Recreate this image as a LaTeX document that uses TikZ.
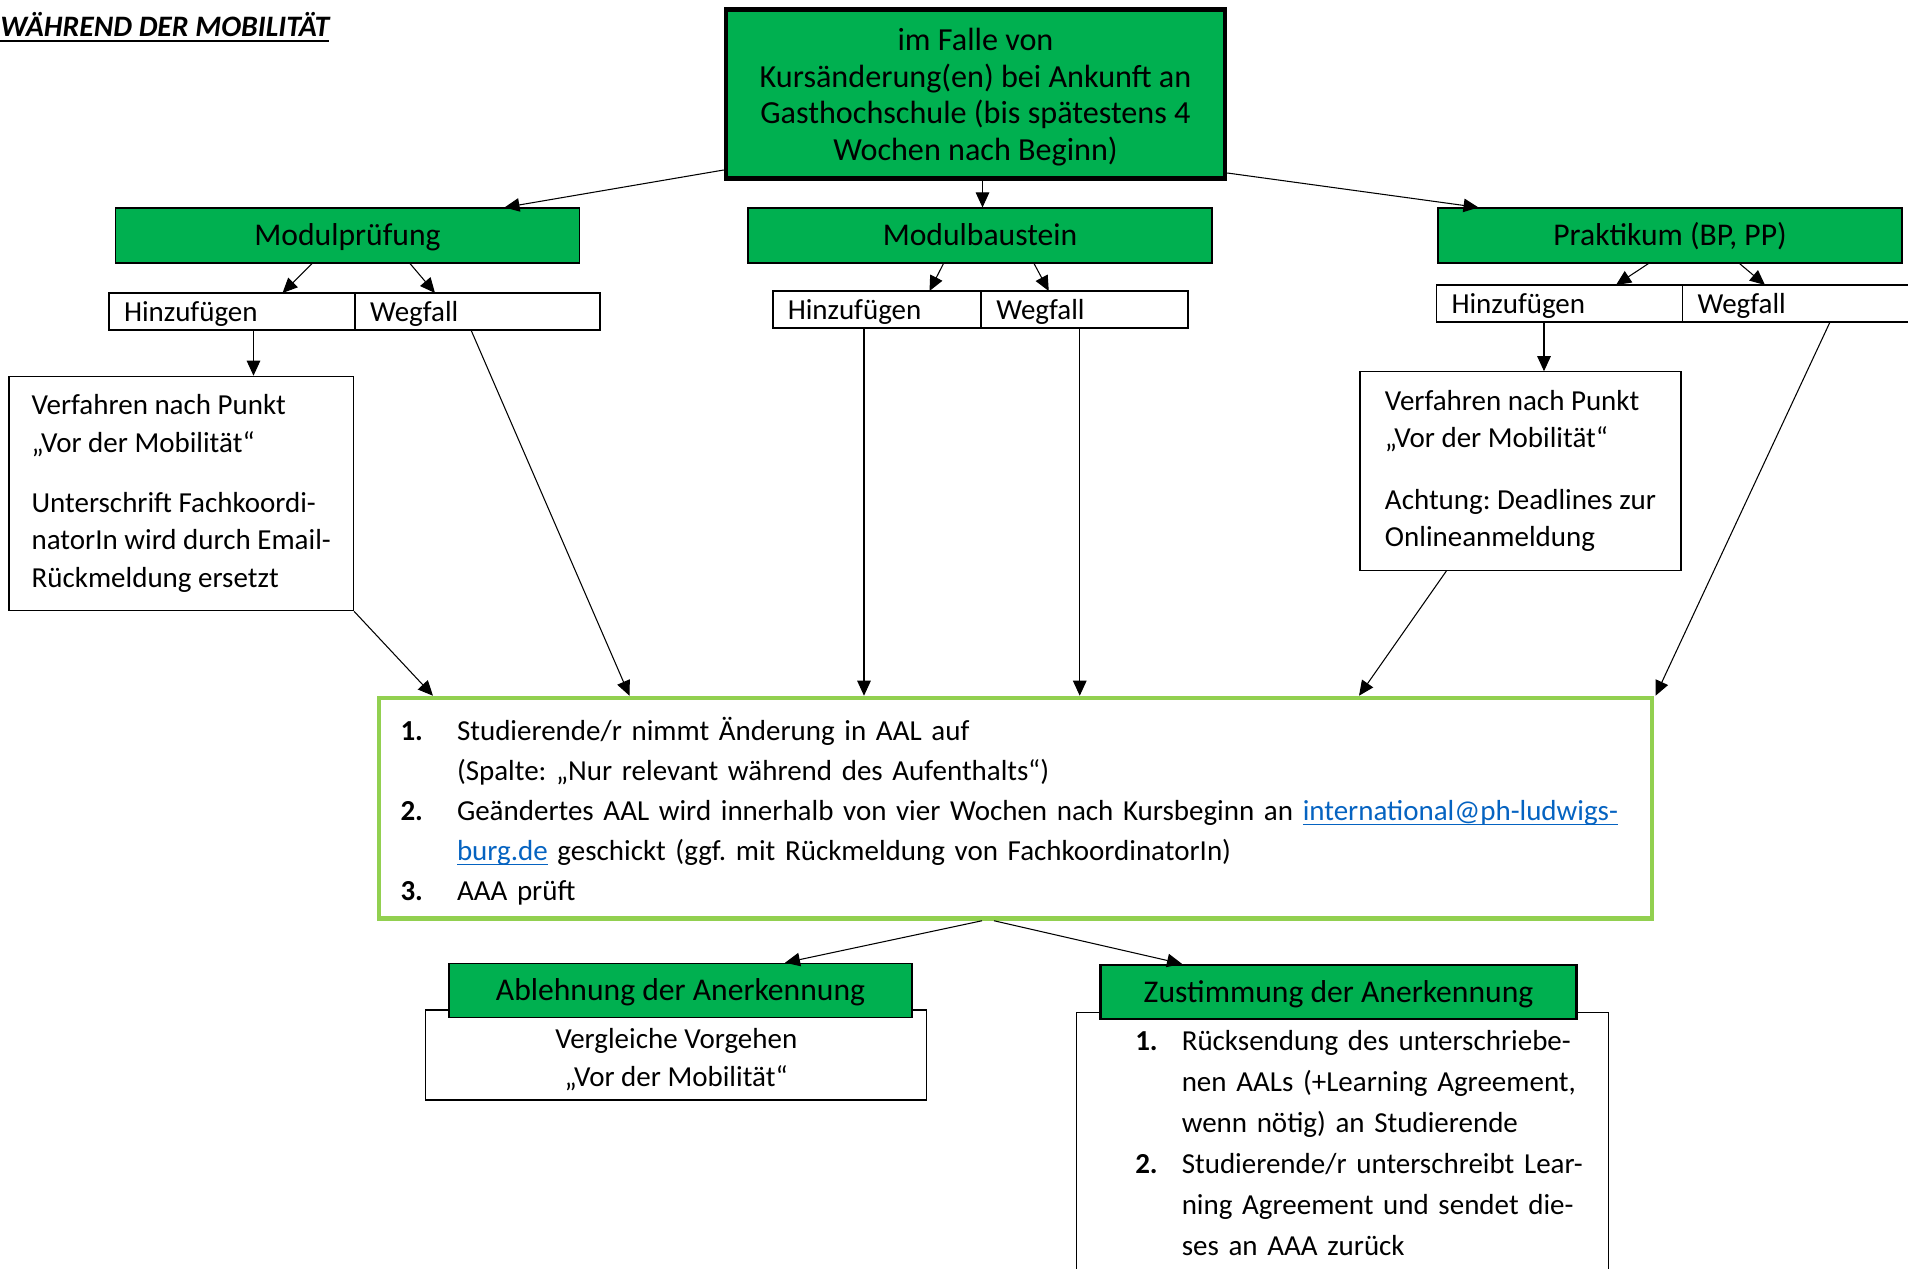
\documentclass[tikz,border=0pt]{standalone}
\usepackage{fontspec}
\setmainfont{Carlito}
\usetikzlibrary{shapes.geometric, arrows.meta, positioning, calc}

\definecolor{ggreen}{RGB}{0,176,80}
\definecolor{lgreen}{RGB}{146,208,80}
\definecolor{linkblue}{RGB}{5,99,193}

\newcommand{\ustr}[1]{\setbox0\hbox{#1}\leavevmode\rlap{\rule[-2.8pt]{\wd0}{0.9pt}}\box0}
\frenchspacing

\tikzstyle{kopf} = [rectangle, draw=black, line width=0.6pt, fill=ggreen, text height=0.48cm, text depth=0.08cm,
minimum width=9.28cm, minimum height=1.1cm, font=\fontsize{18}{21}\selectfont]
\tikzstyle{feld} = [rectangle, draw=black, line width=1pt, fill=white, outer sep=0pt, text height=0.44cm, text depth=0.04cm,
minimum height=0.74cm, inner xsep=0.3cm, inner ysep=0.1cm, align=left, font=\fontsize{16.5}{20}\selectfont]
\tikzstyle{info} = [rectangle, draw=black, line width=0.6pt, fill=white, align=left,
font=\fontsize{16.5}{21.3}\selectfont]
\tikzstyle{arrow} = [line width=0.6pt, ->, >={Triangle[length=0.3cm, width=0.27cm]}]

\begin{document}
\begin{tikzpicture}

        \useasboundingbox (0,0) rectangle (38.16,25.36);
        \clip (0,0) rectangle (38.16,25.36);
        % \draw[help lines] (0,0) grid (38,25);

        \node (TITLE) [anchor=base west, inner sep=0pt,
            font=\fontsize{16.9}{20}\selectfont\bfseries\itshape] at (0,24.626) {\ustr{WÄHREND DER MOBILITÄT}};

        \node (KA) [rectangle, draw=black, line width=0.09cm, fill=ggreen, minimum width=9.98cm,
            minimum height=3.38cm, align=center, font=\fontsize{18.3}{20.9}\selectfont] at (19.51,23.48)
            {\rule{0pt}{0.57cm}im Falle von\\Kursänderung(en) bei Ankunft an\\Gasthochschule (bis spätestens 4\\Wochen nach Beginn)};

        \node (MP) [kopf] at (6.95,20.65) {Modulprüfung};
        \node (MB) [kopf] at (19.60,20.65) {Modulbaustein};
        \node (PP) [kopf] at (33.40,20.65) {Praktikum (BP, PP)};

        \node (MPH) [feld, text width=4.32cm] at (4.64,19.13) {Hinzufügen};
        \node (MPW) [feld, text width=4.30cm, right=0pt of MPH] {Wegfall};
        \node (MBH) [feld, text width=3.57cm] at (17.54,19.17) {Hinzufügen};
        \node (MBW) [feld, text width=3.54cm, right=0pt of MBH] {Wegfall};
        \node (PPH) [feld, text width=4.32cm] at (31.19,19.29) {Hinzufügen};
        \node (PPW) [feld, text width=4.32cm, right=0pt of PPH] {Wegfall};

        \node (VL) [info, minimum width=6.89cm, minimum height=4.69cm] at (3.625,15.49)
            {Verfahren nach Punkt\\„Vor der Mobilität“\\[0.45cm]Unterschrift Fachkoordi-\\natorIn wird durch Email-\\Rückmeldung ersetzt};
        \node (VR) [info, minimum width=6.42cm, minimum height=3.97cm,
            font=\fontsize{16.5}{20.9}\selectfont] at (30.41,15.94)
            {Verfahren nach Punkt\\„Vor der Mobilität“\\[0.5cm]Achtung: Deadlines zur\\Onlineanmeldung};

        \node (AAL) [rectangle, draw=lgreen, line width=0.09cm, minimum width=25.46cm, minimum height=4.41cm,
            text width=24.6cm, inner xsep=0pt, align=left, font=\fontsize{16.5}{22.8}\selectfont] at (20.31,9.195)
            {\rule{0pt}{0.58cm}\makebox[1.13cm][l]{\textbf{1.}}Studierende/r nimmt Änderung in AAL auf\\
             \hspace*{1.13cm}(Spalte: „Nur relevant während des Aufenthalts“)\\
             \makebox[1.13cm][l]{\textbf{2.}}Geändertes AAL wird innerhalb von vier Wochen nach Kursbeginn an {\color{linkblue}\ustr{international@ph-ludwigs-}}\\
             \hspace*{1.13cm}{\color{linkblue}\ustr{burg.de}} geschickt (ggf. mit Rückmeldung von FachkoordinatorIn)\\
             \makebox[1.13cm][l]{\textbf{3.}}AAA prüft};

        \node (ABLT) [info, align=center, minimum width=10.02cm, minimum height=1.8cm] at (13.525,4.26)
            {\rule{0pt}{0.58cm}Vergleiche Vorgehen\\„Vor der Mobilität“};
        \node (ZUST) [info, anchor=north, minimum width=10.65cm, text width=10.65cm, inner xsep=0pt,
            inner ysep=0.36cm, font=\fontsize{16.5}{23.3}\selectfont] at (26.85,5.126)
            {\leftskip=1.18cm
             \makebox[0.93cm][l]{\textbf{1.}}Rücksendung des unterschriebe-\\
             \hspace*{0.93cm}nen AALs (+Learning Agreement,\\
             \hspace*{0.93cm}wenn nötig) an Studierende\\
             \makebox[0.93cm][l]{\textbf{2.}}Studierende/r unterschreibt Lear-\\
             \hspace*{0.93cm}ning Agreement und sendet die-\\
             \hspace*{0.93cm}ses an AAA zurück\par};

        \node (ABL) [kopf, minimum width=9.26cm, minimum height=1.09cm] at (13.61,5.55) {Ablehnung der Anerkennung};
        \node (ZUS) [kopf, line width=1.3pt, minimum width=9.52cm, minimum height=1.08cm] at (26.77,5.52) {Zustimmung der Anerkennung};

        \draw [arrow] ([yshift=-1.52cm]KA.west) -- ([xshift=3.14cm]MP.north);
        \draw [arrow] ([xshift=0.14cm]KA.south) -- ([xshift=0.14cm]KA.south |- MB.north);
        \draw [arrow] ([yshift=-1.58cm]KA.east) -- ([xshift=-3.83cm]PP.north);

        \draw [arrow] ([xshift=-0.71cm]MP.south) -- ([xshift=1.01cm]MPH.north);
        \draw [arrow] ([xshift=1.25cm]MP.south) -- ([xshift=-0.85cm]MPW.north);
        \draw [arrow] ([xshift=-0.73cm]MB.south) -- ([xshift=1.05cm]MBH.north);
        \draw [arrow] ([xshift=1.08cm]MB.south) -- ([xshift=-0.72cm]MBW.north);
        \draw [arrow] ([xshift=-0.43cm]PP.south) -- ([xshift=1.13cm]PPH.north);
        \draw [arrow] ([xshift=1.39cm]PP.south) -- ([xshift=-0.81cm]PPW.north);

        \draw [arrow] ([xshift=0.43cm]MPH.south) -- ([xshift=0.43cm]MPH.south |- VL.north);
        \draw [arrow] ([xshift=-0.31cm]PPH.south) -- ([xshift=-0.31cm]PPH.south |- VR.north);

        \draw [arrow] (VL.south east) -- ([xshift=-11.65cm]AAL.north);
        \draw [arrow] ([xshift=-0.13cm]MPW.south) -- ([xshift=-7.72cm]AAL.north);
        \draw [arrow] ([xshift=-0.26cm]MBH.south) -- ([xshift=-0.26cm]MBH.south |- AAL.north);
        \draw [arrow] ([xshift=-0.10cm]MBW.south) -- ([xshift=-0.10cm]MBW.south |- AAL.north);
        \draw [arrow] ([xshift=-1.48cm]VR.south) -- ([xshift=6.87cm]AAL.north);
        \draw [arrow] ([xshift=0.49cm]PPW.south) -- ([xshift=12.8cm]AAL.north);

        \draw [arrow] ([xshift=-0.67cm]AAL.south) -- ([xshift=2.09cm]ABL.north);
        \draw [arrow] ([xshift=-0.43cm]AAL.south) -- ([xshift=-3.13cm]ZUS.north);

\end{tikzpicture}
\end{document}
